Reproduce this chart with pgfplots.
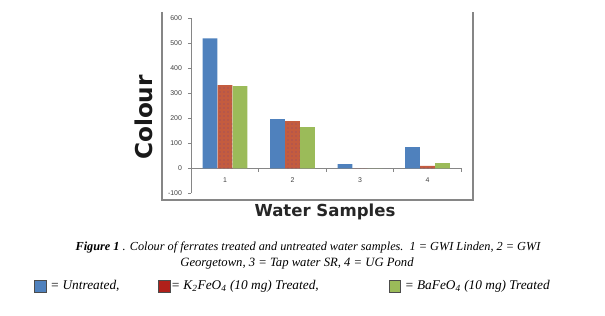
\documentclass[border=0pt]{standalone}
\usepackage{pgfplots}
\pgfplotsset{compat=1.18}
\usetikzlibrary{patterns}
\usepackage{fontspec}
\setmainfont{Liberation Serif}
\setsansfont{Liberation Sans}
\newfontfamily\labfont{DejaVu Sans}
\definecolor{cblue}{HTML}{4F81BD}
\definecolor{cred}{HTML}{C45C3F}
\definecolor{cgreen}{HTML}{9BBB59}
\definecolor{axgray}{HTML}{868686}
\definecolor{lred}{HTML}{B0201A}
\definecolor{dotc}{HTML}{8A4A70}
\begin{document}
\begin{tikzpicture}
\useasboundingbox (0pt,0pt) rectangle (453.75pt,237pt);
\draw[axgray, line width=0.8pt] (121.5pt,228pt) -- (121.5pt,87pt) -- (354.75pt,87pt) -- (354.75pt,228pt);
\begin{axis}[
 at={(143.44pt,92.03pt)}, anchor=south west,
 scale only axis, width=202.5pt, height=131.25pt,
 xmin=0.5, xmax=4.5, ymin=-100, ymax=600,
 axis x line=middle, axis y line=left,
 axis line style={-, draw=axgray, line width=0.6pt},
 xtick={1,2,3,4},
 minor xtick={0.5,1.5,2.5,3.5,4.5},
 major x tick style={draw=none},
 minor x tick style={draw=axgray, line width=0.5pt},
 minor tick length=2.5pt,
 ytick={-100,0,100,200,300,400,500,600},
 major y tick style={draw=axgray, line width=0.5pt},
 major tick length=2.5pt,
 tick align=outside,
 /pgf/number format/assume math mode=true,
 tick label style={font=\sffamily\fontsize{5.2}{6}\selectfont, text=black!75},
 yticklabel style={xshift=-1pt},
 xticklabel style={yshift=-1pt},
 ybar, bar width=10.9pt,
 clip=false,
 xlabel={Water Samples},
 xlabel style={at={(axis description cs:0.4954,-0.107)}, anchor=center, font=\labfont\bfseries\fontsize{12.4}{14}\selectfont, text=black!85},
 ylabel={Colour},
 ylabel style={at={(axis description cs:-0.175,0.433)}, anchor=center, rotate=0, font=\labfont\bfseries\fontsize{17.4}{19}\selectfont, text=black!90},
 legend style={at={(axis description cs:-0.5824,-0.5297)}, anchor=west, draw=none, fill=none,
   font=\itshape\fontsize{10}{12}\selectfont, legend columns=3, inner sep=0pt,
   nodes={inner sep=0pt}, /tikz/every even column/.append style={column sep=0pt}},
]
\addplot[fill=cblue, draw=none, forget plot, bar shift=-11.25pt] coordinates {(1,520) (2,197) (3,17) (4,85)};
\addplot[fill=cred, draw=none, forget plot, bar shift=0pt, postaction={pattern=dots, pattern color=dotc}] coordinates {(1,333) (2,189) (3,0) (4,10)};
\addplot[fill=cgreen, draw=none, forget plot, bar shift=11.25pt] coordinates {(1,329) (2,165) (3,0) (4,21)};
\addlegendimage{legend image code/.code={\draw[fill=cblue,draw=black!70,line width=0.5pt] (0pt,-4.5pt) rectangle (8.5pt,4.5pt);}}
\addlegendentry{\rule{3pt}{0pt}= Untreated,\rule{29pt}{0pt}}
\addlegendimage{legend image code/.code={\draw[fill=lred,draw=black!70,line width=0.5pt] (0pt,-4.5pt) rectangle (8.5pt,4.5pt);}}
\addlegendentry{\rule{0.7pt}{0pt}= K\textsubscript{2}FeO\textsubscript{4} (10 mg) Treated,\rule{52.5pt}{0pt}}
\addlegendimage{legend image code/.code={\draw[fill=cgreen,draw=black!70,line width=0.5pt] (0pt,-4.5pt) rectangle (8.5pt,4.5pt);}}
\addlegendentry{\rule{3pt}{0pt}= BaFeO\textsubscript{4} (10 mg) Treated}
\end{axis}
\node[font=\fontsize{9.2}{11}\selectfont\itshape] at (231pt,51.75pt) {\textbf{Figure 1} . Colour of ferrates treated and untreated water samples.\ \ 1 = GWI Linden, 2 = GWI};
\node[font=\fontsize{9.5}{11}\selectfont\itshape] at (222.75pt,39.75pt) {Georgetown, 3 = Tap water SR, 4 = UG Pond};
\end{tikzpicture}
\end{document}
